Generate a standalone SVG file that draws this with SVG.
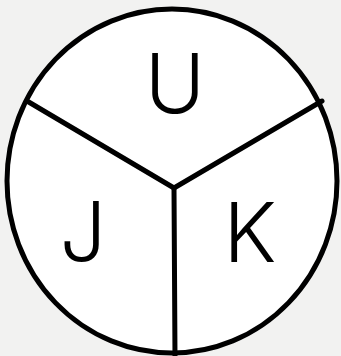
<svg xmlns="http://www.w3.org/2000/svg" width="341" height="356" viewBox="0 0 341 356">
<style>
.line{stroke:#000;stroke-width:5;fill:none;stroke-linecap:round}
.lbl{font-family:"Inter","Open Sans","DejaVu Sans",sans-serif;font-weight:300;font-size:82px;fill:#000;text-anchor:middle}
</style>
<rect width="341" height="356" fill="#f2f2f1"/>
<g id="circle">
<ellipse cx="172" cy="181" rx="165" ry="172" fill="#fff" stroke="#000" stroke-width="5"/>
</g>
<g id="connectors">
<path class="line" d="M27 101 L174 188 L322 101"/>
<path class="line" d="M174 188 L175 358"/>
</g>
<g id="U"><text class="lbl" x="175" y="113">U</text></g>
<g id="J"><text class="lbl" x="83" y="261">J</text></g>
<g id="K"><text class="lbl" x="250" y="262">K</text></g>
</svg>
